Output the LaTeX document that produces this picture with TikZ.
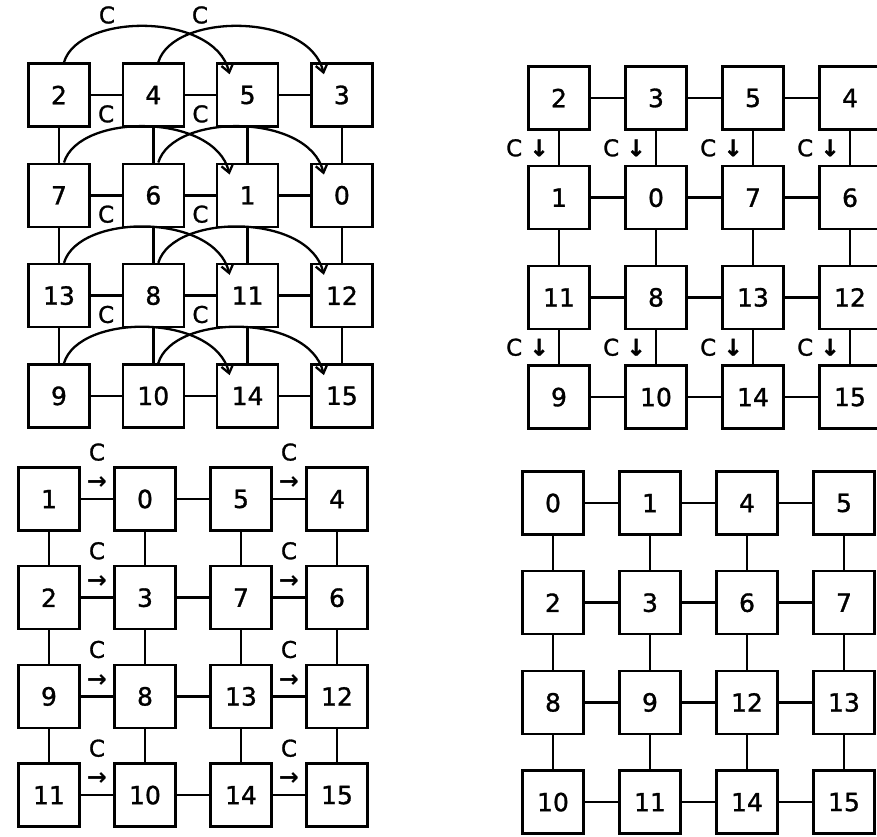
\documentclass[tikz,border=0pt]{standalone}
\usepackage{fontspec}
\setmainfont{DejaVu Sans}
\newfontfamily\heavyfont[FakeBold=1.2]{DejaVu Sans}
\usetikzlibrary{arrows.meta}
\tikzset{
 box/.style={draw, line width=2.5pt, minimum width=61pt, minimum height=63pt, inner sep=0pt, font=\heavyfont\fontsize{25}{28}\selectfont},
 conn/.style={line width=2.5pt},
 carc/.style={line width=2.3pt, -{Straight Barb[length=8pt,width=12pt,line width=2.3pt]}},
 lab/.style={font=\heavyfont\fontsize{23}{25}\selectfont, inner sep=0pt},
 arr/.style={font=\fontsize{24}{26}\selectfont\bfseries, inner sep=0pt},
}
\begin{document}
\begin{tikzpicture}[x=1pt,y=-1pt]
\useasboundingbox (0,0) rectangle (877,836);
\clip (0,0) rectangle (877,836);
% ---------- panel A (top left)
\foreach \lab [count=\i from 0] in {2,4,5,3,7,6,1,0,13,8,11,12,9,10,14,15}{
  \pgfmathtruncatemacro\r{div(\i,4)}\pgfmathtruncatemacro\c{mod(\i,4)}
  \node[box] (A\r\c) at ({59+94.3*\c},{95+100.3*\r}) {\lab};
}
% ---------- panel B (top right)
\foreach \lab [count=\i from 0] in {2,3,5,4,1,0,7,6,11,8,13,12,9,10,14,15}{
  \pgfmathtruncatemacro\r{div(\i,4)}\pgfmathtruncatemacro\c{mod(\i,4)}
  \node[box] (B\r\c) at ({559+97*\c},{98+99.7*\r}) {\lab};
}
% ---------- panel C (bottom left)
\foreach \lab [count=\i from 0] in {1,0,5,4,2,3,7,6,9,8,13,12,11,10,14,15}{
  \pgfmathtruncatemacro\r{div(\i,4)}\pgfmathtruncatemacro\c{mod(\i,4)}
  \node[box] (C\r\c) at ({49+96*\c},{499+98.7*\r}) {\lab};
}
% ---------- panel D (bottom right)
\foreach \lab [count=\i from 0] in {0,1,4,5,2,3,6,7,8,9,12,13,10,11,14,15}{
  \pgfmathtruncatemacro\r{div(\i,4)}\pgfmathtruncatemacro\c{mod(\i,4)}
  \node[box] (D\r\c) at ({553+97*\c},{503+99.7*\r}) {\lab};
}
% ---------- mesh connectors
\foreach \p in {A,B,C,D}{
  \foreach \r in {0,...,3}{\foreach \c/\d in {0/1,1/2,2/3}{\draw[conn] (\p\r\c) -- (\p\r\d);}}
  \foreach \r/\s in {0/1,1/2,2/3}{\foreach \c in {0,...,3}{\draw[conn] (\p\r\c) -- (\p\s\c);}}
}
% ---------- panel A arcs and labels
\foreach \r in {0,...,3}{
  \draw[carc] ([xshift=5pt]A\r0.north) .. controls +(15,-50) and +(-15,-62) .. ([xshift=-18pt,yshift=-12pt]A\r2.north);
  \draw[carc] ([xshift=5pt]A\r1.north) .. controls +(15,-50) and +(-15,-62) .. ([xshift=-18pt,yshift=-12pt]A\r3.north);
}
\node[lab] (ctop1) at (107,15) {C};
\node[lab] (ctop2) at (200,15) {C};
\foreach \r in {0,1,2}{
  \path (A\r0) -- node[lab, below=10pt]{C} (A\r1);
  \path (A\r1) -- node[lab, below=10pt]{C} (A\r2);
}
% ---------- panel B labels
\foreach \r/\s in {0/1,2/3}{
  \foreach \c in {0,...,3}{
    \path (B\r\c) -- node[lab, left=10pt]{C {\bfseries ↓}} (B\s\c);
  }
}
% ---------- panel C labels
\foreach \r in {0,...,3}{
  \path (C\r0) -- node[arr, above=9pt]{→} node[lab, above=38pt]{C} (C\r1);
  \path (C\r2) -- node[arr, above=9pt]{→} node[lab, above=38pt]{C} (C\r3);
}
\end{tikzpicture}
\end{document}
